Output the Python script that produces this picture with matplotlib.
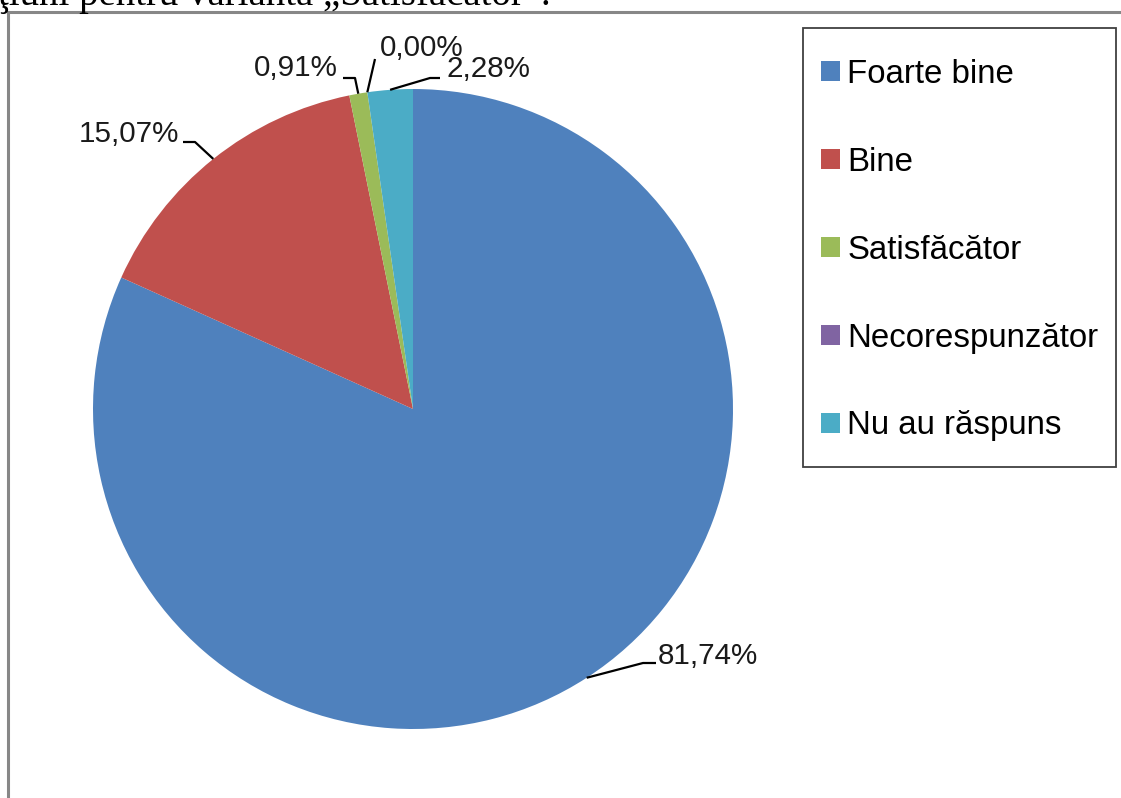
import matplotlib
matplotlib.use('Agg')
import matplotlib.pyplot as plt
import numpy as np
from matplotlib.patches import Rectangle
from matplotlib.lines import Line2D

plt.rcParams['font.family'] = ['Liberation Sans', 'DejaVu Sans']

# ---- data ----
categories = ['Foarte bine', 'Bine', 'Satisfăcător', 'Necorespunzător', 'Nu au răspuns']
values = [81.74, 15.07, 0.91, 0.00, 2.28]
label_texts = ['81,74%', '15,07%', '0,91%', '0,00%', '2,28%']
colors = ['#4F81BD', '#C0504D', '#9BBB59', '#8064A2', '#4BACC6']
caption = 'ţiuni pentru varianta „Satisfăcător”.'

# ---- layout (pixels, y measured from top) ----
W, H = 1121, 798
pie_center = (413, 409)
pie_radius = 320
# text anchor (x, y, ha) and leader-line elbow points (from pie edge to text)
label_layout = [
    ((658, 656, 'left'),  [(643, 663), (656, 663)]),
    ((179, 134, 'right'), [(195, 142), (183, 142)]),
    ((338, 68, 'right'),  [(355, 78), (343, 78)]),
    ((380, 48, 'left'),   [(375, 59)]),
    ((447, 69, 'left'),   [(430, 78), (440, 78)]),
]

fig = plt.figure(figsize=(W / 100, H / 100), dpi=100)
ax = fig.add_axes([0, 0, 1, 1])
cx, cy = pie_center[0], H - pie_center[1]
wedges, _ = ax.pie(values, colors=colors, startangle=90, counterclock=False,
                   center=(cx, cy), radius=pie_radius,
                   wedgeprops=dict(linewidth=0))
ax.set_xlim(0, W)
ax.set_ylim(0, H)
ax.set_aspect('equal')
ax.axis('off')

for w, txt, ((tx, ty, ha), elbows) in zip(wedges, label_texts, label_layout):
    mid = np.deg2rad((w.theta1 + w.theta2) / 2)
    px = cx + pie_radius * np.cos(mid)
    py = cy + pie_radius * np.sin(mid)
    xs = [px] + [e[0] for e in elbows]
    ys = [py] + [H - e[1] for e in elbows]
    ax.plot(xs, ys, color='black', lw=1.6, solid_capstyle='butt', clip_on=False)
    ax.text(tx, H - ty, txt, ha=ha, va='center', fontsize=21.3, color='#1a1a1a')

# legend
leg = fig.legend(wedges, categories, loc='upper left',
                 bbox_to_anchor=(821 / W, 1 - 59 / H), frameon=False,
                 fontsize=23.8, handlelength=0.58, handleheight=0.55,
                 handletextpad=0.22, labelspacing=1.72, borderpad=0,
                 borderaxespad=0)
fig.add_artist(Rectangle((803 / W, 1 - 467 / H), 313 / W, 439 / H,
                         transform=fig.transFigure, fill=False,
                         edgecolor='#404040', lw=1.3))

# outer chart frame (partially visible)
fig.add_artist(Line2D([8 / W, 1], [1 - 12 / H, 1 - 12 / H],
                      transform=fig.transFigure, color='#878787', lw=2.2))
fig.add_artist(Line2D([8 / W, 8 / W], [0, 1 - 12 / H],
                      transform=fig.transFigure, color='#878787', lw=2.2))

# cropped caption text above the chart
fig.text(-0.002, 1 - 5 / H, caption, family=['Liberation Serif', 'DejaVu Serif'],
         fontsize=28, va='baseline', ha='left', color='black')

fig.savefig('out.png', dpi=100, facecolor='white')
